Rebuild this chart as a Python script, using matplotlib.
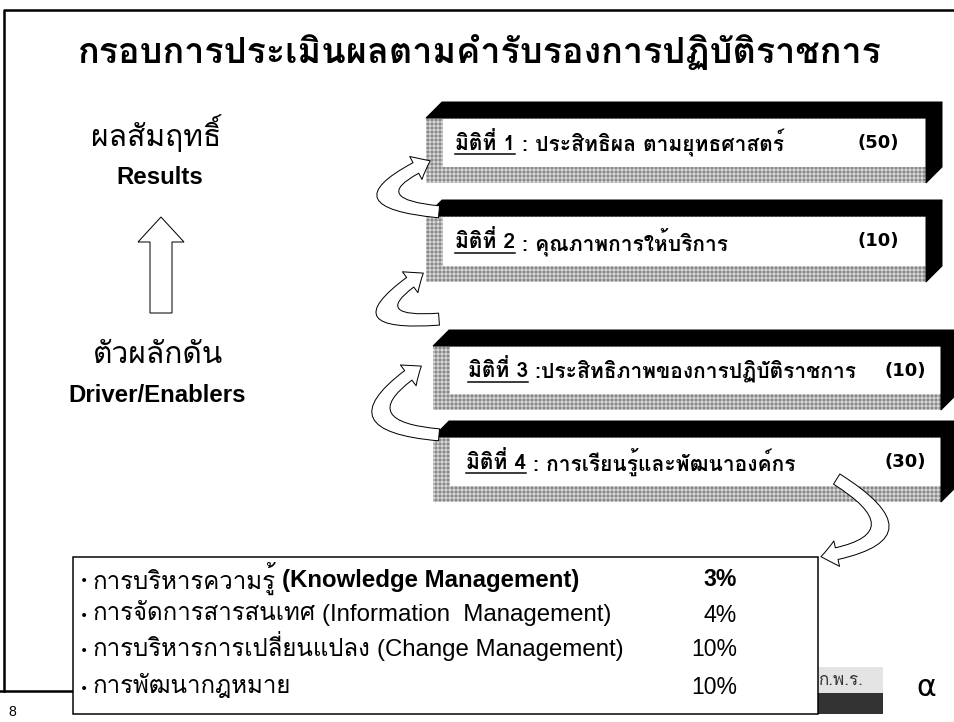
import matplotlib
matplotlib.use("Agg")
import matplotlib.pyplot as plt
from matplotlib.patches import Polygon, Rectangle, FancyArrowPatch

THAI = "Loma"

title = "กรอบการประเมินผลตามคำรับรองการปฏิบัติราชการ"
dim_labels = ["มิติที่ 1", "มิติที่ 2", "มิติที่ 3", "มิติที่ 4"]
dim_names = [" : ประสิทธิผล ตามยุทธศาสตร์", " : คุณภาพการให้บริการ",
             " :ประสิทธิภาพของการปฏิบัติราชการ", " : การเรียนรู้และพัฒนาองค์กร"]
dim_weights = [50, 10, 10, 30]
sub_thai = ["การบริหารความรู้", "การจัดการสารสนเทศ", "การบริหารการเปลี่ยนแปลง", "การพัฒนากฎหมาย"]
sub_eng = ["(Knowledge Management)", "(Information  Management)", "(Change Management)", ""]
sub_pct = [3, 4, 10, 10]

# box layout (pixels)
box_left = [426, 426, 433, 433]
box_right = [926, 926, 941, 941]
box_top = [118, 216, 346, 437]
box_bottom = [183, 282, 410, 502]
text_x = [455, 455, 468, 466]
weight_pad = [27, 27, 15, 15]
depth = 16

fig = plt.figure(figsize=(954 / 72, 722 / 72), dpi=72)
ax = fig.add_axes([0, 0, 1, 1])
ax.set_xlim(0, 954)
ax.set_ylim(722, 0)
ax.axis("off")

THAI_B = [THAI, "DejaVu Sans"]
LAT_THAI = ["DejaVu Sans", THAI]

# slide frame
ax.plot([4, 4, 960], [691, 10, 10], color="black", lw=2.5)
ax.plot([0, 80], [691, 691], color="black", lw=2.5)
ax.text(8, 712, "8", fontsize=14, va="center", family="Liberation Sans")

ax.text(480, 52, title, fontsize=36, fontweight="bold", ha="center", va="center", family=THAI_B)

# left side labels + up arrow
ax.text(156, 133, "ผลสัมฤทธิ์", fontsize=30, ha="center", va="center", family=THAI_B)
ax.text(160, 178, "Results", fontsize=24, fontweight="bold", ha="center", va="center",
        family="Liberation Sans")
ax.add_patch(Polygon([(150, 313), (150, 242), (138, 242), (161, 217), (184, 242),
                      (172, 242), (172, 313)], closed=True, fc="white", ec="black", lw=1))
ax.text(158, 355, "ตัวผลักดัน", fontsize=30, ha="center", va="center", family=THAI_B)
ax.text(157, 395, "Driver/Enablers", fontsize=24, fontweight="bold", ha="center", va="center",
        family="Liberation Sans")

fig.canvas.draw()
renderer = fig.canvas.get_renderer()

for i in range(4):
    l, r, t, b = box_left[i], box_right[i], box_top[i], box_bottom[i]
    ax.add_patch(Rectangle((l, t), r - l, b - t, fc="#8a8a8a", ec="#d8d8d8", lw=0, hatch="+++"))
    ax.add_patch(Rectangle((l + 17, t + 1), r - l - 17, b - t - 17, fc="white", ec="none"))
    ax.add_patch(Polygon([(l, t), (l + depth, t - depth), (r + depth, t - depth), (r, t)],
                         closed=True, fc="black", ec="black"))
    ax.add_patch(Polygon([(r, t), (r + depth, t - depth), (r + depth, b - depth), (r, b)],
                         closed=True, fc="black", ec="black"))
    ym = (t + b - 17) / 2 + 1
    lab = ax.text(text_x[i], ym, dim_labels[i], fontsize=21, fontweight="bold", va="center",
                  family=THAI_B)
    bb = lab.get_window_extent(renderer).transformed(ax.transData.inverted())
    x0, x1 = bb.x0, bb.x1
    ax.plot([x0, x1], [ym + 11, ym + 11], color="black", lw=1.5)
    ax.text(x1, ym, dim_names[i], fontsize=21, fontweight="bold", va="center", family=THAI_B)
    ax.text(r - weight_pad[i], ym, f"({dim_weights[i]})", fontsize=18, fontweight="bold",
            va="center", ha="right", family=LAT_THAI)

# curved arrows between the boxes
arrow_kw = dict(arrowstyle="simple,head_length=16,head_width=26,tail_width=12",
                fc="white", ec="black", lw=1, mutation_scale=1, zorder=5)
curves = [((441, 212), (432, 160), -1.87),
          ((441, 319), (425, 272), -1.95),
          ((441, 435), (423, 365), -1.45),
          ((835, 478), (819, 557), -1.34)]
for (p0, p1, rad) in curves:
    ax.add_patch(FancyArrowPatch(p0, p1, connectionstyle=f"arc3,rad={rad}", **arrow_kw))

# bottom text box
ax.add_patch(Rectangle((73, 557), 745, 157, fc="white", ec="black", lw=1.5, zorder=6))
row_y = [578, 613, 648, 686]
for i in range(4):
    ax.text(80, row_y[i] + 3, "•", fontsize=14, va="center", zorder=7, family="DejaVu Sans")
    th = ax.text(93, row_y[i], sub_thai[i], fontsize=24, va="center", zorder=7, family=THAI_B)
    if sub_eng[i]:
        bb = th.get_window_extent(renderer).transformed(ax.transData.inverted())
        ax.text(bb.x1 + 6, row_y[i] + 2, sub_eng[i], fontsize=24, va="center", zorder=7,
                fontweight="bold" if i == 0 else "normal", family="Liberation Sans")
    ax.text(737, row_y[i] + 2, f"{sub_pct[i]}%", fontsize=23, va="center", ha="right", zorder=7,
            fontweight="bold" if i == 0 else "normal", family="Liberation Sans")

# logos
ax.add_patch(Rectangle((799, 667), 84, 26, fc="#e4e4e4", ec="none"))
ax.add_patch(Rectangle((799, 693), 84, 21, fc="#333333", ec="none"))
ax.text(841, 681, "ก.พ.ร.", fontsize=17, ha="center", va="center", color="#333333",
        family=THAI_B)
ax.text(926, 688, "α", fontsize=30, ha="center", va="center", family="DejaVu Sans")

fig.savefig("out.png", dpi=72)
